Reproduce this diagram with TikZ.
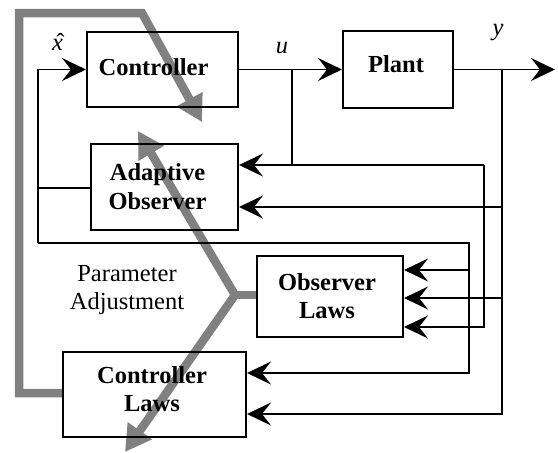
\documentclass[tikz,border=0pt]{standalone}
\usepackage{fontspec}
\setmainfont{Liberation Serif}
\usetikzlibrary{arrows.meta}
\begin{document}
\begin{tikzpicture}[x=1pt,y=-1pt,
  blk/.style={draw, line width=2pt, inner sep=0pt},
  bt/.style={align=center, inner sep=0pt, font=\fontsize{24.5}{28.5}\selectfont\bfseries},
  conn/.style={line width=1.5pt},
  arr/.style={conn, -{Stealth[length=24pt,width=23pt,inset=9pt]}},
  gr/.style={line width=8.5pt, draw={rgb,255:red,128;green,128;blue,128}, line join=miter},
  grarr/.style={gr, -{Triangle[length=26pt,width=28pt]}},
  lbl/.style={font=\fontsize{24.5}{28.5}\selectfont\itshape, inner sep=0pt},
  txt/.style={font=\fontsize{24.5}{28.5}\selectfont, align=center, inner sep=0pt}
]
\useasboundingbox (0,0) rectangle (558,453);

% coordinates
\coordinate (uT) at (292,69.5);
\coordinate (uB) at (292,165);
\coordinate (uR) at (484,165);
\coordinate (yT) at (502,69.5);
\coordinate (y2) at (502,207);
\coordinate (y3) at (502,298);
\coordinate (xT) at (38,69.5);
\coordinate (xB) at (38,243);
\coordinate (xR) at (469,243);
\coordinate (x2) at (469,270);
\coordinate (out) at (555,69.5);
\coordinate (g1) at (19,393);
\coordinate (g2) at (19,13);
\coordinate (g3) at (142,13);
\coordinate (g4) at (202,122);
\coordinate (J) at (235,295);
\coordinate (t1) at (138,131);
\coordinate (t2) at (125,452);

% gray parameter adjustment arrows (behind)
\draw[gr] (J) -- (330,295);
\draw[grarr] (J) -- (t1);
\draw[grarr] (J) -- (t2);
\draw[grarr] (63,393) -- (g1) -- (g2) -- (g3) -- (g4);

% blocks
\node[blk, minimum width=151pt, minimum height=75pt] (ctrl) at (162.5,69.5) {};
\node[blk, minimum width=110pt, minimum height=77pt] (plant) at (398,69) {};
\node[blk, minimum width=147pt, minimum height=86pt] (ao) at (164.5,187) {};
\node[blk, minimum width=146pt, minimum height=81pt, fill=white] (ol) at (330,296.5) {};
\node[blk, minimum width=183pt, minimum height=85pt] (cl) at (154.5,394.5) {};

% block texts
\node[bt] (ctrlT) at (153.5,67.5) {Controller};
\node[bt] (plantT) at (396,64.5) {Plant};
\node[bt] (aoT) at (157.5,186.5) {Adaptive\\Observer};
\node[bt] (olT) at (327,296) {Observer\\Laws};
\node[bt] (clT) at (152,389) {Controller\\Laws};

% connectors
\draw[arr] (ctrl.east) -- (plant.west |- ctrl.east);
\draw[arr] (plant.east |- yT) -- (out);
\draw[conn] (uT) -- (uB);
\draw[arr] (uR) -- (ao.east |- uR);
\draw[arr] (uR) |- (ol.east |- 0,327);
\draw[arr] (yT) |- (cl.east |- 0,414);
\draw[arr] (y2) -- (ao.east |- y2);
\draw[arr] (y3) -- (ol.east |- y3);
\draw[arr] (xB) |- (ctrl.west);
\draw[arr] (xB) -- (xR) |- (cl.east |- 0,373);
\draw[arr] (x2) -- (ol.east |- x2);
\draw[conn] (ao.west |- 0,188) -- (xT |- 0,188);

% labels
\node[lbl, anchor=base] (lx) at (57.5,50) {x\makebox[0pt][r]{\raisebox{0pt}{\upshape ˆ}\hspace{-1.5pt}}};
\node[lbl, anchor=base] (lu) at (282,53) {u};
\node[lbl, anchor=base] (ly) at (498,35) {y};
\node[txt] (pa) at (127,290) {Parameter\\Adjustment};
\end{tikzpicture}
\end{document}
